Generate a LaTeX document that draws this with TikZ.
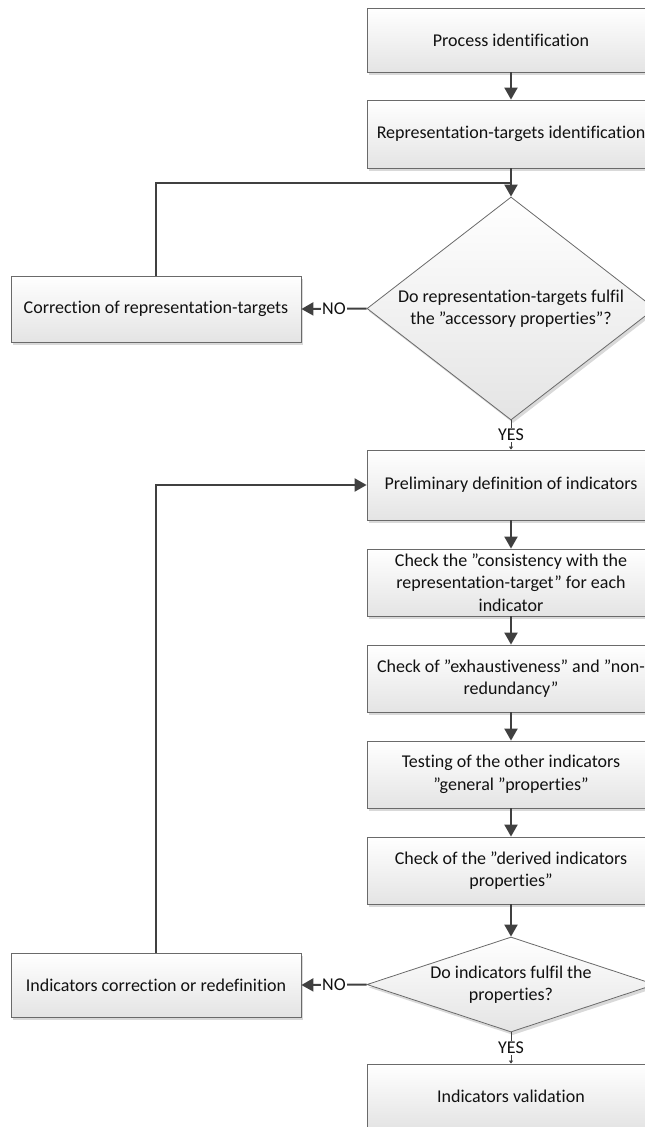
\documentclass[tikz,border=0pt]{standalone}
\usepackage{fontspec}
\setmainfont[Ligatures=NoCommon]{Carlito}
\usetikzlibrary{shapes.geometric,arrows.meta,shadows}

\definecolor{linegray}{HTML}{404040}
\definecolor{edgegray}{HTML}{6A6A6A}
\definecolor{boxbottom}{HTML}{E4E4E4}
\definecolor{txt}{HTML}{111111}

\tikzset{
  basefont/.style={font=\fontsize{18}{22.5}\selectfont, text=txt},
  stepbox/.style={basefont, draw=edgegray, line width=0.8pt,
    top color=white, bottom color=boxbottom, align=center,
    minimum width=288pt, inner sep=0pt,
    drop shadow={shadow xshift=2pt, shadow yshift=-3pt, fill=gray, opacity=0.3}},
  sidebox/.style={stepbox, minimum width=290pt},
  decision/.style={diamond, draw=edgegray, line width=0.8pt,
    top color=white, bottom color=boxbottom,
    minimum width=288pt, inner sep=0pt,
    drop shadow={shadow xshift=2pt, shadow yshift=-3pt, fill=gray, opacity=0.3}},
  dectext/.style={basefont, align=center, inner sep=0pt},
  flow/.style={draw=linegray, line width=2pt, -{Triangle[length=12pt,width=13pt]}},
  plain/.style={draw=linegray, line width=2pt},
  answer/.style={basefont, fill=white, inner sep=1pt},
  yesflow/.style={draw=linegray, line width=1pt, -{Triangle[length=3pt,width=4pt]}},
}

\begin{document}
\begin{tikzpicture}[x=1pt, y=-1pt]
\useasboundingbox (0,0) rectangle (645,1127);
\clip (0,0) rectangle (645,1127);

% main column
\node[stepbox, minimum height=64pt] (p1) at (511,40) {Process identification};
\node[stepbox, minimum height=68pt] (p2) at (511,134) {Representation-targets identification};
\node[decision, minimum height=223pt] (d1) at (511,308.5) {};
\node[dectext] (d1t) at (d1.center) {Do representation-targets fulfil\\the ”accessory properties”?};
\node[stepbox, minimum height=70pt] (p3) at (511,485) {Preliminary definition of indicators};
\node[stepbox, minimum height=67pt] (p4) at (511,582.5) {Check the ”consistency with the\\representation-target” for each\\indicator};
\node[stepbox, minimum height=67pt] (p5) at (511,678.5) {Check of ”exhaustiveness” and ”non-\\redundancy”};
\node[stepbox, minimum height=67pt] (p6) at (511,774.5) {Testing of the other indicators\\”general ”properties”};
\node[stepbox, minimum height=67pt] (p7) at (511,870.5) {Check of the ”derived indicators\\properties”};
\node[decision, minimum height=95pt] (d2) at (511,984.5) {};
\node[dectext] (d2t) at (d2.center) {Do indicators fulfil the\\properties?};
\node[stepbox, minimum height=64pt] (p8) at (511,1096) {Indicators validation};

% correction boxes on the left
\node[sidebox, minimum height=66pt] (c1) at (156,309) {Correction of representation-targets};
\node[sidebox, minimum height=64pt] (c2) at (156,985) {Indicators correction or redefinition};

% junction of the first feedback loop
\coordinate (j1) at (511,183);

% connectors down the main column
\draw[flow] (p1) -- (p2);
\draw[flow] (p2) -- (d1);
\draw[yesflow] (d1.south) -- node[answer] {YES} (p3.north);
\draw[flow] (p3) -- (p4);
\draw[flow] (p4) -- (p5);
\draw[flow] (p5) -- (p6);
\draw[flow] (p6) -- (p7);
\draw[flow] (p7) -- (d2);
\draw[yesflow] (d2.south) -- node[answer] {YES} (p8.north);

% NO branches and feedback loops
\draw[flow] (d1.west) -- node[answer] {NO} (c1.east);
\draw[plain] (c1.north) |- (j1);
\draw[flow] (d2.west) -- node[answer] {NO} (c2.east);
\draw[flow] (c2.north) |- (p3.west);
\end{tikzpicture}
\end{document}
